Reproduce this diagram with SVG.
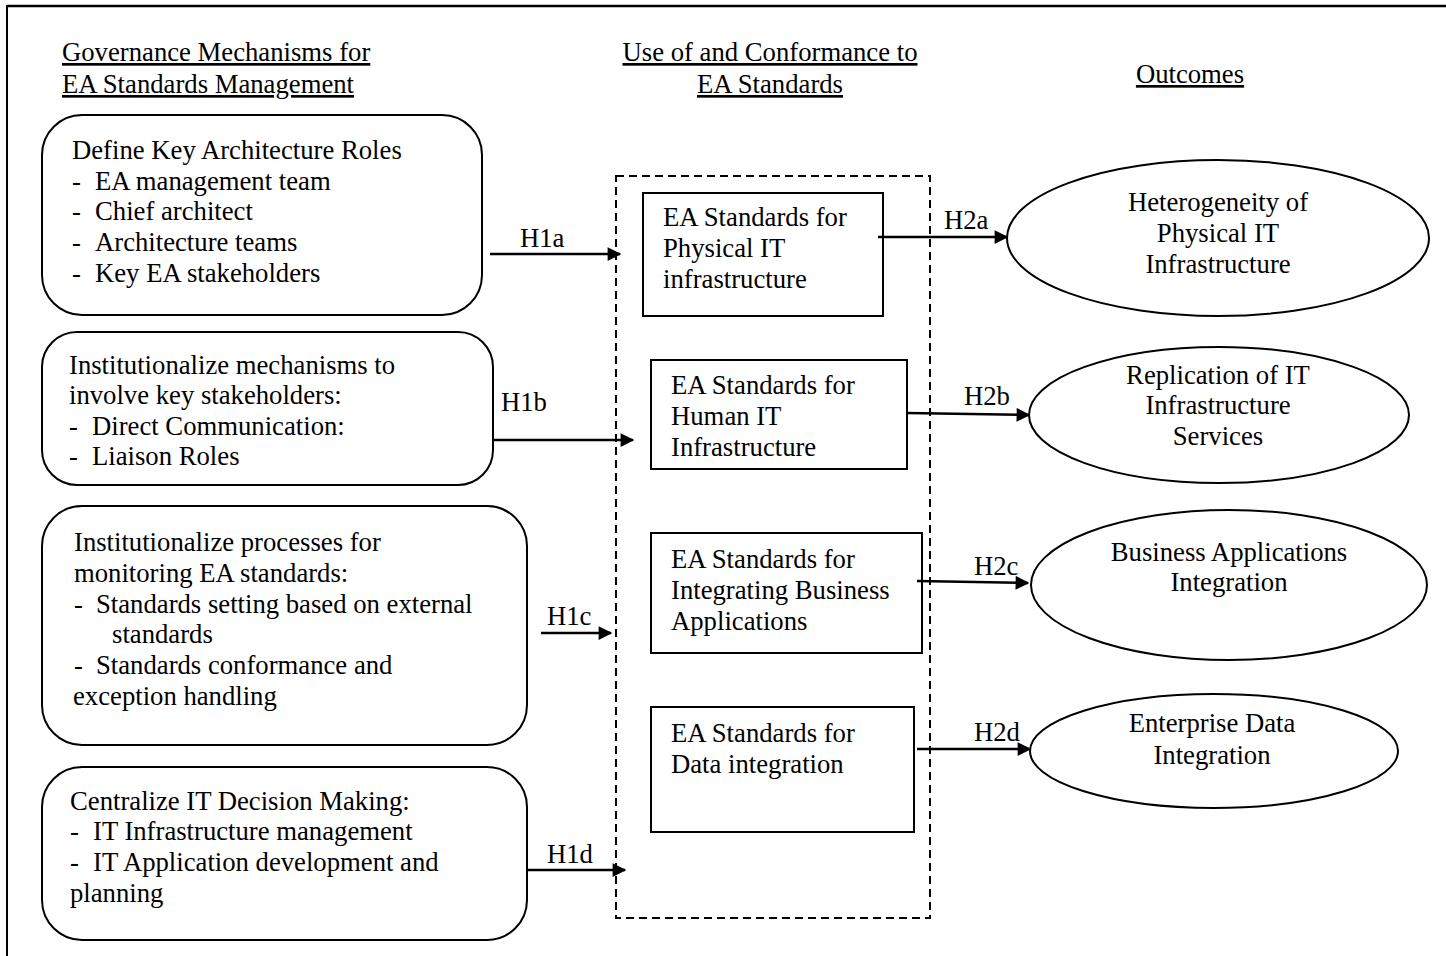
<svg xmlns="http://www.w3.org/2000/svg" width="1446" height="956" viewBox="0 0 1446 956">
<defs>
<style>
text{font-family:"Liberation Serif","Times New Roman",serif;font-size:26.7px;fill:#000}
.u{text-decoration:underline}
.c{text-anchor:middle}
.box{fill:#fff;stroke:#000;stroke-width:2}
.conn{stroke:#000;stroke-width:2.5;fill:none}
</style>
<marker id="ah" viewBox="0 0 10 10" refX="9" refY="5" markerWidth="6.5" markerHeight="5.5" markerUnits="strokeWidth" orient="auto">
<path d="M0,0 L10,5 L0,10 Z" fill="#000"/>
</marker>
</defs>
<rect width="1446" height="956" fill="#fff"/>
<g id="frame">
<line x1="7" y1="6" x2="1446" y2="6" stroke="#000" stroke-width="2.5"/>
<line x1="7" y1="5" x2="7" y2="956" stroke="#000" stroke-width="2"/>
</g>
<g id="headers">
<text x="62" y="61" class="u">Governance Mechanisms for</text>
<text x="62" y="93" class="u">EA Standards Management</text>
<text x="770" y="61" class="u c">Use of and Conformance to</text>
<text x="770" y="93" class="u c">EA Standards</text>
<text x="1190" y="83" class="u c">Outcomes</text>
</g>
<g id="gov1">
<rect x="42" y="115" width="440" height="200" rx="40" class="box"/>
<text x="72" y="159">Define Key Architecture Roles</text>
<text x="72" y="190">-</text><text x="95" y="190">EA management team</text>
<text x="72" y="220">-</text><text x="95" y="220">Chief architect</text>
<text x="72" y="251">-</text><text x="95" y="251">Architecture teams</text>
<text x="72" y="282">-</text><text x="95" y="282">Key EA stakeholders</text>
</g>
<g id="gov2">
<rect x="42" y="332" width="451" height="153" rx="35" class="box"/>
<text x="69" y="374">Institutionalize mechanisms to</text>
<text x="69" y="404">involve key stakeholders:</text>
<text x="69" y="435">-</text><text x="92" y="435">Direct Communication:</text>
<text x="69" y="465">-</text><text x="92" y="465">Liaison Roles</text>
</g>
<g id="gov3">
<rect x="42" y="506" width="485" height="239" rx="40" class="box"/>
<text x="74" y="551">Institutionalize processes for</text>
<text x="74" y="582">monitoring EA standards:</text>
<text x="74" y="613">-</text><text x="96" y="613">Standards setting based on external</text>
<text x="112" y="643">standards</text>
<text x="74" y="674">-</text><text x="96" y="674">Standards conformance and</text>
<text x="73" y="705">exception handling</text>
</g>
<g id="gov4">
<rect x="42" y="767" width="485" height="173" rx="40" class="box"/>
<text x="70" y="810">Centralize IT Decision Making:</text>
<text x="70" y="840">-</text><text x="93" y="840">IT Infrastructure management</text>
<text x="70" y="871">-</text><text x="93" y="871">IT Application development and</text>
<text x="70" y="902">planning</text>
</g>
<g id="standards">
<rect x="616" y="176" width="314" height="742" fill="none" stroke="#000" stroke-width="2" stroke-dasharray="8,5"/>
</g>
<g id="std1">
<rect x="643" y="193" width="240" height="123" class="box"/>
<text x="663" y="226">EA Standards for</text>
<text x="663" y="257">Physical IT</text>
<text x="663" y="288">infrastructure</text>
</g>
<g id="std2">
<rect x="651" y="360" width="256" height="109" class="box"/>
<text x="671" y="394">EA Standards for</text>
<text x="671" y="425">Human IT</text>
<text x="671" y="456">Infrastructure</text>
</g>
<g id="std3">
<rect x="651" y="533" width="271" height="120" class="box"/>
<text x="671" y="568">EA Standards for</text>
<text x="671" y="599">Integrating Business</text>
<text x="671" y="630">Applications</text>
</g>
<g id="std4">
<rect x="651" y="707" width="263" height="125" class="box"/>
<text x="671" y="742">EA Standards for</text>
<text x="671" y="773">Data integration</text>
</g>
<g id="out1">
<ellipse cx="1218" cy="238" rx="211" ry="78" class="box"/>
<text x="1218" y="211" class="c">Heterogeneity of</text>
<text x="1218" y="242" class="c">Physical IT</text>
<text x="1218" y="273" class="c">Infrastructure</text>
</g>
<g id="out2">
<ellipse cx="1219" cy="415" rx="190" ry="68" class="box"/>
<text x="1218" y="384" class="c">Replication of IT</text>
<text x="1218" y="414" class="c">Infrastructure</text>
<text x="1218" y="445" class="c">Services</text>
</g>
<g id="out3">
<ellipse cx="1229" cy="585" rx="198" ry="75" class="box"/>
<text x="1229" y="561" class="c">Business Applications</text>
<text x="1229" y="591" class="c">Integration</text>
</g>
<g id="out4">
<ellipse cx="1214" cy="751" rx="184" ry="57" class="box"/>
<text x="1212" y="732" class="c">Enterprise Data</text>
<text x="1212" y="764" class="c">Integration</text>
</g>
<g id="connectors">
<line x1="490" y1="254" x2="620" y2="254" class="conn" marker-end="url(#ah)"/>
<line x1="493" y1="440" x2="633" y2="440" class="conn" marker-end="url(#ah)"/>
<line x1="541" y1="633" x2="611" y2="633" class="conn" marker-end="url(#ah)"/>
<line x1="527" y1="870" x2="625" y2="870" class="conn" marker-end="url(#ah)"/>
<line x1="878" y1="237" x2="1007" y2="237" class="conn" marker-end="url(#ah)"/>
<line x1="907" y1="413" x2="1029" y2="415" class="conn" marker-end="url(#ah)"/>
<line x1="917" y1="581" x2="1028" y2="583" class="conn" marker-end="url(#ah)"/>
<line x1="917" y1="749" x2="1030" y2="749" class="conn" marker-end="url(#ah)"/>
<text x="520" y="247">H1a</text>
<text x="501" y="411">H1b</text>
<text x="547" y="625">H1c</text>
<text x="547" y="863">H1d</text>
<text x="944" y="229">H2a</text>
<text x="964" y="405">H2b</text>
<text x="974" y="575">H2c</text>
<text x="974" y="741">H2d</text>
</g>
</svg>
